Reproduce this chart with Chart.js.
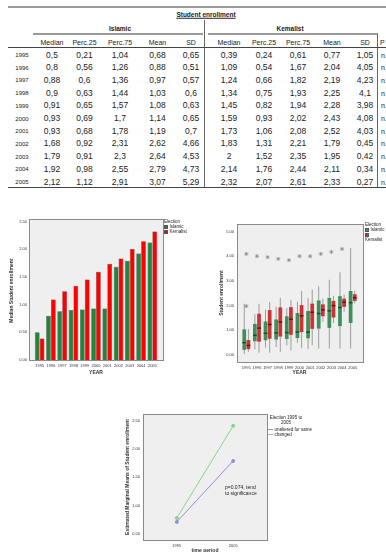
<!DOCTYPE html>
<html lang="en">
<head>
<meta charset="UTF-8">
<title>Student enrollment</title>
<script src="https://cdn.jsdelivr.net/npm/chart.js"></script>
<style>
body{margin:0;width:386px;height:552px;overflow:hidden;background:#fff;font-family:"Liberation Sans",Arial,sans-serif;color:#222;position:relative}
.a{position:absolute;white-space:nowrap}
.c{position:absolute;transform:translate(-50%,-50%);white-space:nowrap;line-height:1}
.l{position:absolute;transform:translateY(-50%);white-space:nowrap;line-height:1}
.ln{position:absolute}
canvas{position:absolute}
.leg{position:absolute;font-size:4.5px;line-height:5px}
.sw{display:inline-block;width:4px;height:4px;margin-right:1.5px;vertical-align:-0.5px;border:0.5px solid #555;box-sizing:border-box}
.lsw{display:inline-block;width:5px;height:0;margin-right:1.5px;vertical-align:1.5px;border-top:1px solid}
</style>
</head>
<body>

<!-- table frame -->
<div class="ln" style="left:8px;top:6px;width:378px;border-top:2px solid #9a9a9a"></div>
<div class="c" style="left:206px;top:15px;font-size:6.5px;font-weight:bold;text-decoration:underline">Student enrollment</div>
<div class="ln" style="left:204px;top:20px;width:1px;height:167px;background:#666"></div>
<div class="c" style="left:120px;top:29px;font-size:6.5px;font-weight:bold">Islamic</div>
<div class="ln" style="left:33px;top:33px;width:170px;border-top:2px solid #9a9a9a"></div>
<div class="c" style="left:290px;top:29px;font-size:6.5px;font-weight:bold">Kemalist</div>
<div class="ln" style="left:208px;top:33px;width:170px;border-top:2px solid #9a9a9a"></div>
<div class="ln" style="left:377px;top:34px;width:1px;height:153px;background:#666"></div>
<div class="ln" style="left:8px;top:47px;width:378px;border-top:1px solid #444"></div>
<div class="ln" style="left:8px;top:187px;width:378px;border-top:1.5px solid #444"></div>
<div id="tbl"></div>

<!-- bar chart -->
<canvas id="barChart" width="192" height="180" style="left:0;top:212px"></canvas>
<div class="leg" style="left:164px;top:219px">Election<br><span class="sw" style="background:#23843d"></span>Islamic<br><span class="sw" style="background:#ff0000"></span>Kemalist</div>

<!-- box plot -->
<canvas id="boxChart" width="181" height="180" style="left:205px;top:212px"></canvas>
<div class="leg" style="left:365px;top:222px">Election<br><span class="sw" style="background:#3f8f5c"></span>Islamic<br><span class="sw" style="background:#cc3333"></span>Kemalist</div>

<!-- line chart -->
<canvas id="lineChart" width="200" height="160" style="left:118px;top:405px"></canvas>
<div class="leg" style="left:268px;top:415px;width:36px;text-align:center">Election 1995 to<br>2005</div>
<div class="leg" style="left:268px;top:427px"><span class="lsw" style="border-color:#8f8fdc"></span>unaltered for same<br><span class="lsw" style="border-color:#88d488"></span>changed</div>
<div class="a" style="left:225px;top:485px;font-size:5px;line-height:5.5px">p=0.074, tend<br>to significance</div>

<script>
// ---- data ----
const years = ['1995','1996','1997','1998','1999','2000','2001','2002','2003','2004','2005'];

const islMedian = [0.5, 0.8, 0.88, 0.9, 0.91, 0.93, 0.93, 1.68, 1.79, 1.92, 2.12];
const islP25    = [0.21, 0.56, 0.6, 0.63, 0.65, 0.69, 0.68, 0.92, 0.91, 0.98, 1.12];
const islP75    = [1.04, 1.26, 1.36, 1.44, 1.57, 1.7, 1.78, 2.31, 2.3, 2.55, 2.91];
const islMean   = [0.68, 0.88, 0.97, 1.03, 1.08, 1.14, 1.19, 2.62, 2.64, 2.79, 3.07];
const islSD     = [0.65, 0.51, 0.57, 0.6, 0.63, 0.65, 0.7, 4.66, 4.53, 4.73, 5.29];

const kemMedian = [0.39, 1.09, 1.24, 1.34, 1.45, 1.59, 1.73, 1.83, 2, 2.14, 2.32];
const kemP25    = [0.24, 0.54, 0.66, 0.75, 0.82, 0.93, 1.06, 1.31, 1.52, 1.76, 2.07];
const kemP75    = [0.61, 1.67, 1.82, 1.93, 1.94, 2.02, 2.08, 2.21, 2.35, 2.44, 2.61];
const kemMean   = [0.77, 2.04, 2.19, 2.25, 2.28, 2.43, 2.52, 1.79, 1.95, 2.11, 2.33];
const kemSD     = [1.05, 4.05, 4.23, 4.1, 3.98, 4.08, 4.03, 0.45, 0.42, 0.34, 0.27];
const pCol      = ['n.s.','n.s.','n.s.','n.s.','n.s.','n.s.','n.s.','n.s.','n.s.','n.s.','n.s.'];

// box plot
const boxIslQ1  = [0.21, 0.56, 0.6, 0.63, 0.65, 0.69, 0.68, 1.07, 1.1, 1.17, 1.3];
const boxIslQ3  = [1.04, 1.26, 1.36, 1.44, 1.57, 1.7, 1.78, 2.21, 2.31, 2.38, 2.59];
const boxIslLo  = [0.04, 0.24, 0.3, 0.33, 0.4, 0.5, 0.24, 0.27, 0.27, 0.27, 0.27];
const boxIslHi  = [2.08, 1.65, 1.84, 1.95, 1.9, 2.15, 2.3, 2.78, 3.05, 3.35, 4.33];
const boxKemQ1  = [0.24, 0.54, 0.66, 0.75, 0.82, 0.93, 1.06, 1.57, 1.52, 1.95, 2.19];
const boxKemQ3  = [0.61, 1.67, 1.82, 1.93, 1.94, 2.02, 2.08, 2.05, 2.19, 2.28, 2.46];
const boxKemLo  = [0.13, 0.09, 0.09, 0.13, 0.2, 0.3, 0.4, 1.35, 1.3, 1.75, 2.1];
const boxKemHi  = [1.05, 2.08, 2.15, 2.32, 2.24, 2.59, 2.64, 2.28, 2.4, 2.45, 2.6];
const outlierYears  = ['1995','1995','1996','1997','1998','1999','2000','2001','2002','2003','2004'];
const outlierValues = [4.09, 1.98, 4.0, 3.96, 3.89, 3.84, 4.0, 4.0, 4.09, 4.17, 4.29];

// estimated marginal means
const periods   = ['1995', '2005'];
const emUnaltered = [0.71, 1.79];
const emChanged   = [0.78, 2.41];

// ---- table ----
const fmt = v => String(v).replace('.', ',');
const tableCols = [
  {x: 52,  head: 'Median',  vals: islMedian},
  {x: 84.5,head: 'Perc.25', vals: islP25},
  {x: 120, head: 'Perc.75', vals: islP75},
  {x: 157.5,head: 'Mean',   vals: islMean},
  {x: 191, head: 'SD',      vals: islSD},
  {x: 229, head: 'Median',  vals: kemMedian},
  {x: 264, head: 'Perc.25', vals: kemP25},
  {x: 298, head: 'Perc.75', vals: kemP75},
  {x: 332, head: 'Mean',    vals: kemMean},
  {x: 365, head: 'SD',      vals: kemSD}
];
let html = '';
tableCols.forEach(col => {
  html += `<div class="c" style="left:${col.x}px;top:42px;font-size:7px">${col.head}</div>`;
  col.vals.forEach((v, i) => {
    html += `<div class="c" style="left:${col.x}px;top:${54.5 + 12.7 * i}px;font-size:8.5px">${fmt(v)}</div>`;
  });
});
html += `<div class="l" style="left:380px;top:42px;font-size:7px">P</div>`;
years.forEach((y, i) => {
  const top = 54.5 + 12.7 * i;
  html += `<div class="c" style="left:22px;top:${top + 0.5}px;font-size:6px">${y}</div>`;
  html += `<div class="l" style="left:381px;top:${top}px;font-size:7px">${pCol[i]}</div>`;
});
document.getElementById('tbl').innerHTML = html;

// ---- charts ----
Chart.defaults.font.family = '"Liberation Sans", Arial, sans-serif';
Chart.defaults.color = '#333';
Chart.defaults.animation = false;

// gray plot area with frame, like SPSS
const plotBg = {
  id: 'plotBg',
  beforeDraw(chart, args, opts) {
    const a = chart.chartArea, c = chart.ctx, p = opts.pad || [0, 0, 0, 0];
    const x = Math.round(a.left - p[0]) + 0.5, y = Math.round(a.top - p[1]) + 0.5;
    const w = Math.round(a.right + p[2] - x), h = Math.round(a.bottom + p[3] - y);
    c.save();
    c.fillStyle = '#efefef';
    c.fillRect(x, y, w, h);
    c.strokeStyle = '#8a8a8a';
    c.lineWidth = 1;
    c.strokeRect(x, y, w, h);
    c.restore();
  }
};

const tickFont = {size: 4};
const titleFont = {size: 5, weight: 'bold'};

new Chart(document.getElementById('barChart'), {
  type: 'bar',
  data: {
    labels: years,
    datasets: [
      {label: 'Islamic', data: islMedian, backgroundColor: '#23843d', borderColor: '#2b3b2f', borderWidth: 0.5,
       categoryPercentage: 0.86, barPercentage: 0.98},
      {label: 'Kemalist', data: kemMedian, backgroundColor: '#ff0000', borderColor: '#6a1a1a', borderWidth: 0.5,
       categoryPercentage: 0.86, barPercentage: 0.98}
    ]
  },
  plugins: [plotBg],
  options: {
    responsive: false,
    devicePixelRatio: 1,
    layout: {padding: {top: 9, right: 34}},
    plugins: {legend: {display: false}, tooltip: {enabled: false}, plotBg: {pad: [5, 2, 5, 0]}},
    scales: {
      x: {
        grid: {display: false, drawTicks: false}, border: {display: false},
        ticks: {font: tickFont, padding: 3, autoSkip: false, maxRotation: 0},
        title: {display: true, text: 'YEAR', font: titleFont, padding: {top: 0, bottom: 16}},
        afterFit: s => { s.height = 32; }
      },
      y: {
        min: 0, max: 2.5,
        grid: {display: false, drawTicks: false}, border: {display: false},
        ticks: {font: tickFont, stepSize: 0.5, padding: 7, callback: v => v.toFixed(2)},
        title: {display: true, text: 'Median Student enrollment', font: titleFont, padding: {top: 9, bottom: 0}},
        afterFit: s => { s.width = 34; }
      }
    }
  }
});

const boxCat = 0.78;
const boxBar = 0.9;
new Chart(document.getElementById('boxChart'), {
  type: 'bar',
  data: {
    labels: years,
    datasets: [
      {label: 'Islamic', stack: 'isl', order: 1, data: years.map((_, i) => [boxIslQ1[i], boxIslQ3[i]]),
       backgroundColor: '#3f8f5c', categoryPercentage: boxCat, barPercentage: boxBar},
      {label: 'Kemalist', stack: 'kem', order: 1, data: years.map((_, i) => [boxKemQ1[i], boxKemQ3[i]]),
       backgroundColor: '#cc3333', categoryPercentage: boxCat, barPercentage: boxBar},
      {label: 'isl whisker', stack: 'isl', order: 3, data: years.map((_, i) => [boxIslLo[i], boxIslHi[i]]),
       backgroundColor: '#9c9c9c', categoryPercentage: boxCat, barPercentage: 0.24},
      {label: 'kem whisker', stack: 'kem', order: 3, data: years.map((_, i) => [boxKemLo[i], boxKemHi[i]]),
       backgroundColor: '#9c9c9c', categoryPercentage: boxCat, barPercentage: 0.24},
      {label: 'isl median', stack: 'isl', order: 0, data: islMedian.map(m => [m - 0.03, m + 0.03]),
       backgroundColor: '#1d4a2b', categoryPercentage: boxCat, barPercentage: boxBar},
      {label: 'kem median', stack: 'kem', order: 0, data: kemMedian.map(m => [m - 0.03, m + 0.03]),
       backgroundColor: '#5e1515', categoryPercentage: boxCat, barPercentage: boxBar},
      {type: 'line', label: 'outliers', order: 0, showLine: false,
       data: outlierYears.map((y, i) => ({x: y, y: outlierValues[i]})),
       pointStyle: 'star', pointRadius: 2, borderColor: '#8a8a8a', borderWidth: 0.8, backgroundColor: '#8a8a8a'}
    ]
  },
  plugins: [plotBg],
  options: {
    responsive: false,
    devicePixelRatio: 1,
    layout: {padding: {top: 12, right: 28}},
    plugins: {legend: {display: false}, tooltip: {enabled: false}, plotBg: {pad: [4, 0, 5, 0]}},
    scales: {
      x: {
        grid: {display: false, drawTicks: false}, border: {display: false},
        ticks: {font: tickFont, padding: 3, autoSkip: false, maxRotation: 0},
        title: {display: true, text: 'YEAR', font: titleFont, padding: {top: 0, bottom: 16}},
        afterFit: s => { s.height = 30; }
      },
      y: {
        stacked: false,
        min: -0.28, max: 5.3,
        grid: {display: false, drawTicks: false}, border: {display: false},
        ticks: {font: tickFont, stepSize: 1, includeBounds: false, padding: 7, callback: v => v.toFixed(2)},
        title: {display: true, text: 'Student enrollment', font: titleFont, padding: {top: 14, bottom: 0}},
        afterFit: s => { s.width = 36; }
      }
    }
  }
});

new Chart(document.getElementById('lineChart'), {
  type: 'line',
  data: {
    datasets: [
      {label: 'unaltered for same', data: periods.map((p, i) => ({x: i, y: emUnaltered[i]})),
       borderColor: '#8f8fdc', backgroundColor: '#8f8fdc', borderWidth: 1, pointRadius: 1.5},
      {label: 'changed', data: periods.map((p, i) => ({x: i, y: emChanged[i]})),
       borderColor: '#88d488', backgroundColor: '#88d488', borderWidth: 1, pointRadius: 1.5}
    ]
  },
  plugins: [plotBg],
  options: {
    responsive: false,
    devicePixelRatio: 1,
    layout: {padding: {top: 9, right: 51}},
    plugins: {legend: {display: false}, tooltip: {enabled: false}, plotBg: {pad: [0, 0, 0, 0]}},
    scales: {
      x: {
        type: 'linear', min: -0.6, max: 1.6,
        grid: {display: false, drawTicks: false}, border: {display: false},
        ticks: {font: tickFont, stepSize: 1, includeBounds: false, padding: 3, callback: v => periods[v]},
        title: {display: true, text: 'time period', font: titleFont, padding: {top: 0, bottom: 11}},
        afterFit: s => { s.height = 25; }
      },
      y: {
        min: 0.39, max: 2.62,
        grid: {display: false, drawTicks: false}, border: {display: false},
        ticks: {font: tickFont, stepSize: 0.5, includeBounds: false, padding: 3, callback: v => v.toFixed(2)},
        title: {display: true, text: 'Estimated Marginal Means of Student enrollment', font: titleFont, padding: {top: 7, bottom: 0}},
        afterFit: s => { s.width = 25; }
      }
    }
  }
});
</script>
</body>
</html>
